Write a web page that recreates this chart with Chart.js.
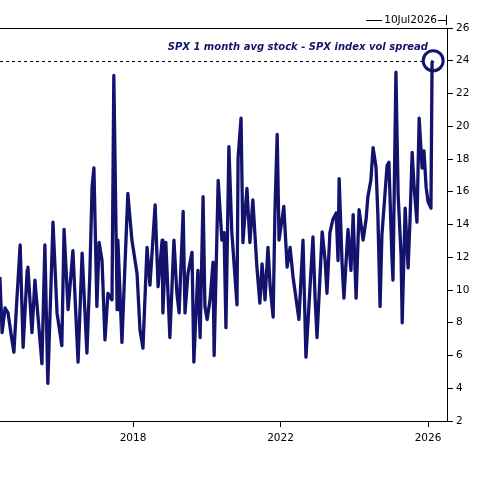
<!DOCTYPE html>
<html>
<head>
<meta charset="utf-8">
<script src="https://cdn.jsdelivr.net/npm/chart.js@4"></script>
<style>
  html, body { margin: 0; padding: 0; background: #fff; }
  #wrap { width: 484px; height: 483px; }
</style>
</head>
<body>
<div id="wrap"><canvas id="spread"></canvas></div>
<script>
// dates as decimal years
const dates = [
  2014.39, 2014.45, 2014.53, 2014.61, 2014.72, 2014.77, 2014.85, 2014.94, 2015.02, 2015.13,
  2015.15, 2015.26, 2015.34, 2015.40, 2015.53, 2015.61, 2015.69, 2015.83, 2015.94, 2016.07,
  2016.13, 2016.24, 2016.37, 2016.51, 2016.62, 2016.75, 2016.83, 2016.89, 2016.94, 2017.02,
  2017.08, 2017.16, 2017.24, 2017.32, 2017.43, 2017.48, 2017.57, 2017.59, 2017.70, 2017.78,
  2017.86, 2017.97, 2018.11, 2018.19, 2018.27, 2018.38, 2018.46, 2018.60, 2018.68, 2018.79,
  2018.81, 2018.89, 2019.00, 2019.11, 2019.19, 2019.25, 2019.36, 2019.41, 2019.49, 2019.60,
  2019.65, 2019.76, 2019.82, 2019.90, 2019.95, 2020.01, 2020.09, 2020.17, 2020.20, 2020.31,
  2020.41, 2020.47, 2020.52, 2020.60, 2020.68, 2020.82, 2020.85, 2020.93, 2020.98, 2021.09,
  2021.17, 2021.25, 2021.36, 2021.44, 2021.50, 2021.58, 2021.66, 2021.72, 2021.80, 2021.85,
  2021.91, 2021.96, 2022.09, 2022.18, 2022.26, 2022.34, 2022.50, 2022.61, 2022.69, 2022.77,
  2022.88, 2022.94, 2022.99, 2023.13, 2023.21, 2023.26, 2023.34, 2023.42, 2023.51, 2023.56,
  2023.59, 2023.67, 2023.72, 2023.83, 2023.91, 2023.97, 2024.05, 2024.13, 2024.24, 2024.32,
  2024.37, 2024.45, 2024.51, 2024.59, 2024.64, 2024.70, 2024.75, 2024.89, 2024.94, 2025.02,
  2025.05, 2025.13, 2025.19, 2025.27, 2025.30, 2025.38, 2025.46, 2025.51, 2025.57, 2025.62,
  2025.70, 2025.76, 2025.84, 2025.89, 2025.95, 2026.00, 2026.08, 2026.11, 2026.14
];
const spread = [
  10.8, 7.4, 8.9, 8.6, 6.9, 6.2, 9.4, 12.75, 6.5, 11.2,
  11.4, 7.4, 10.6, 9.0, 5.5, 12.75, 4.3, 14.15, 8.6, 6.6,
  13.7, 8.8, 12.4, 5.6, 12.25, 6.15, 11.0, 16.3, 17.45, 9.0,
  12.9, 11.8, 6.95, 9.8, 9.4, 23.1, 8.8, 13.05, 6.8, 11.4,
  15.9, 13.05, 11.0, 7.55, 6.45, 12.6, 10.3, 15.2, 10.2, 13.05,
  8.6, 12.9, 7.1, 13.05, 9.8, 8.6, 14.8, 8.6, 11.0, 12.3,
  5.6, 11.2, 7.1, 15.7, 9.0, 8.2, 9.4, 11.7, 6.0, 16.7,
  13.05, 13.5, 7.7, 18.75, 13.5, 9.1, 18.1, 20.5, 12.9, 16.2,
  12.9, 15.5, 11.4, 9.2, 11.6, 9.4, 12.6, 10.2, 8.35, 14.9,
  19.5, 13.05, 15.1, 11.4, 12.6, 10.8, 8.2, 13.05, 5.9, 9.0,
  13.25, 9.4, 7.1, 13.55, 11.8, 9.8, 13.5, 14.3, 14.7, 11.8,
  16.8, 11.6, 9.5, 13.7, 11.2, 14.6, 9.5, 14.9, 13.05, 14.3,
  15.7, 16.7, 18.7, 17.5, 14.6, 9.0, 13.35, 17.6, 17.8, 12.1,
  10.6, 23.3, 15.8, 12.1, 8.0, 15.0, 11.35, 14.15, 18.4, 16.4,
  14.15, 20.5, 17.45, 18.5, 16.25, 15.4, 15.0, 23.9, 24.0
];
const xTicks = [2018, 2022, 2026];
const refLevel = 24;
const dateLabel = '10Jul2026';
const seriesTitle = 'SPX 1 month avg stock - SPX index vol spread';

const navy = '#13136e';
const tickFont = { family: 'DejaVu Sans', size: 10.5 };

// extra drawing: top border, dashed 24 line, date range label, title text
const decor = {
  id: 'decor',
  afterDatasetsDraw(chart) {
    const { ctx, chartArea: a, scales } = chart;
    ctx.save();
    // top frame line
    ctx.strokeStyle = '#000';
    ctx.lineWidth = 1;
    ctx.beginPath();
    ctx.moveTo(a.left, a.top + 0.5);
    ctx.lineTo(a.right, a.top + 0.5);
    ctx.stroke();

    // dashed reference line up to the circle
    const yRef = Math.round(scales.y.getPixelForValue(refLevel)) + 0.5;
    const lastX = scales.x.getPixelForValue(dates[dates.length - 1]);
    ctx.setLineDash([3, 3]);
    ctx.beginPath();
    ctx.moveTo(a.left, yRef);
    ctx.lineTo(lastX - 10, yRef);
    ctx.stroke();
    ctx.setLineDash([]);

    // date range label above the frame
    ctx.font = '10.5px "DejaVu Sans"';
    ctx.fillStyle = '#000';
    ctx.textBaseline = 'middle';
    const ly = a.top - 8;
    const tw = ctx.measureText(dateLabel).width;
    const tx = a.right - 10 - tw;
    ctx.fillText(dateLabel, tx, ly);
    ctx.beginPath();
    ctx.moveTo(tx - 18, ly + 0.5);
    ctx.lineTo(tx - 2, ly + 0.5);
    ctx.moveTo(tx + tw + 1, ly + 0.5);
    ctx.lineTo(a.right, ly + 0.5);
    ctx.moveTo(a.right - 0.5, ly - 5);
    ctx.lineTo(a.right - 0.5, ly + 5);
    ctx.stroke();

    // series title
    ctx.font = 'italic bold 10px "DejaVu Sans"';
    ctx.fillStyle = navy;
    ctx.textAlign = 'right';
    ctx.textBaseline = 'alphabetic';
    ctx.fillText(seriesTitle, a.right - 19, a.top + 22);
    ctx.restore();
  }
};

const last = spread.length - 1;

new Chart(document.getElementById('spread'), {
  type: 'line',
  data: {
    datasets: [{
      data: dates.map((d, i) => ({ x: d, y: spread[i] })),
      borderColor: navy,
      borderWidth: 3.3,
      tension: 0,
      borderJoinStyle: 'round',
      pointRadius: ctx => ctx.dataIndex === last ? 10 : 0,
      pointBorderWidth: 3,
      pointBorderColor: navy,
      pointBackgroundColor: 'rgba(0,0,0,0)',
      pointHoverRadius: 0
    }]
  },
  options: {
    responsive: true,
    maintainAspectRatio: false,
    animation: false,
    events: [],
    layout: { autoPadding: false, padding: { top: 28, left: 0, right: 0, bottom: 0 } },
    plugins: { legend: { display: false }, tooltip: { enabled: false } },
    scales: {
      x: {
        type: 'linear',
        min: 2014.393,
        max: 2026.515,
        afterBuildTicks: s => { s.ticks = xTicks.map(v => ({ value: v })); },
        afterFit: s => { s.height = 62; s.paddingLeft = 0; s.paddingRight = 0; },
        border: { display: true, color: '#000', width: 1 },
        grid: { drawOnChartArea: false, drawTicks: true, tickLength: 6, color: '#000' },
        ticks: { color: '#000', font: tickFont, padding: 5, maxRotation: 0, callback: v => String(v) }
      },
      y: {
        position: 'right',
        min: 2,
        max: 26,
        afterFit: s => { s.width = 37; },
        border: { display: true, color: '#000', width: 1 },
        grid: { drawOnChartArea: false, drawTicks: true, tickLength: 6, color: '#000' },
        ticks: { stepSize: 2, color: '#000', font: tickFont, padding: 3 }
      }
    }
  },
  plugins: [decor]
});
</script>
</body>
</html>
